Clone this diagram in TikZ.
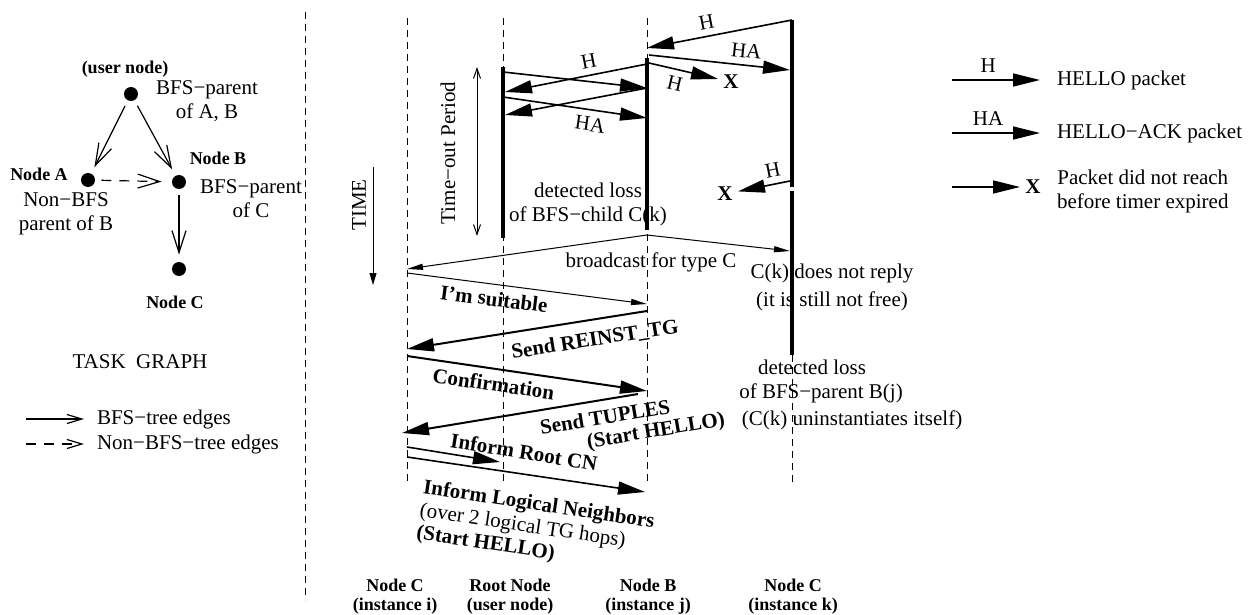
\documentclass[tikz,border=0pt]{standalone}
\usepackage{fontspec}
\setmainfont{Liberation Serif}
\usetikzlibrary{arrows.meta}

\tikzset{
    ponto/.style={circle, fill, inner sep=0pt, minimum size=7pt},
    aresta/.style={line width=0.6pt, -{Straight Barb[length=11pt,width=7pt]}, shorten <=3pt, shorten >=3.5pt},
    legaresta/.style={line width=0.6pt, -{Straight Barb[length=7.5pt,width=4.5pt]}},
    vida/.style={line width=0.5pt, dash pattern=on 3.5pt off 2.5pt},
    ativo/.style={line width=1.7pt},
    msg/.style={line width=0.8pt, -{Triangle[length=13.5pt,width=6.5pt]}},
    fino/.style={line width=0.5pt, -{Triangle[length=8pt,width=3pt]}},
    negrito/.style={font=\fontsize{10.5}{11.5}\selectfont\bfseries},
    titulo/.style={font=\fontsize{9}{9.5}\selectfont\bfseries, align=center},
    xis/.style={font=\fontsize{10.5}{11.5}\selectfont\bfseries, inner sep=2.5pt}
}

\begin{document}
\begin{tikzpicture}[x=0.5pt, y=-0.5pt, font=\fontsize{10.5}{12}\selectfont]
    \useasboundingbox (0,0) rectangle (1252,615);

    % Grafo de tarefas
    \node[ponto] (raiz) at (131,94) {};
    \node[ponto] (na) at (88,180) {};
    \node[ponto] (nb) at (179,182) {};
    \node[ponto] (nc) at (179,269) {};
    \draw[aresta] (raiz) -- (na);
    \draw[aresta] (raiz) -- (nb);
    \draw[aresta] (nb) -- (nc);
    \draw[aresta, dash pattern=on 5pt off 4pt, shorten >=5pt] (na) -- (nb);

    \node[titulo] (tusr) at (125,69) {(user node)};
    \node[titulo] (ta) at (39,174) {Node A};
    \node[titulo] (tb) at (218,158) {Node B};
    \node[titulo] (tc) at (175,302) {Node C};
    \node[align=center] (pab) at (207,101) {BFS−parent\\of A, B};
    \node[align=center] (pnb) at (66,214) {Non−BFS\\parent of B};
    \node[align=center] (pc) at (251,199) {BFS−parent\\of C};
    \node (tg) at (140,362) {TASK\ \ GRAPH};

    % Legenda do grafo
    \coordinate (le1) at (26,419);  \coordinate (le2) at (84,419);
    \coordinate (le3) at (26,444);  \coordinate (le4) at (84,444);
    \draw[legaresta] (le1) -- (le2);
    \draw[legaresta, dash pattern=on 5pt off 4pt] (le3) -- (le4);
    \node[anchor=west] (tle1) at (90,419) {BFS−tree edges};
    \node[anchor=west] (tle2) at (90,444) {Non−BFS−tree edges};

    % Separador
    \coordinate (sep1) at (305,12);
    \coordinate (sep2) at (305,600);
    \draw[vida] (sep1) -- (sep2);

    % Linhas de vida
    \foreach \n/\x in {ci/407, r/503, j/647} {
        \coordinate (\n-t) at (\x,18);
        \coordinate (\n-b) at (\x,482);
        \draw[vida] (\n-t) -- (\n-b);
    }
    \coordinate (r-a1) at (503,67);   \coordinate (r-a2) at (503,238);
    \coordinate (j-a1) at (647,58);   \coordinate (j-a2) at (647,230);
    \coordinate (k-a1) at (792,20);   \coordinate (k-a2) at (792,187);
    \coordinate (k-a3) at (792,191);  \coordinate (k-a4) at (792,355);
    \coordinate (k-b) at (792,482);
    \draw[ativo] (r-a1) -- (r-a2);
    \draw[ativo] (j-a1) -- (j-a2);
    \draw[ativo] (k-a1) -- (k-a2);
    \draw[ativo] (k-a3) -- (k-a4);
    \draw[vida] (k-a4) -- (k-b);

    % Tempo e timeout
    \coordinate (tm1) at (373,167);  \coordinate (tm2) at (373,285);
    \draw[line width=0.5pt, -{Triangle[length=6pt,width=3.5pt]}] (tm1) -- (tm2);
    \node[rotate=90] (ttime) at (359,205) {TIME};
    \coordinate (to1) at (477,67);  \coordinate (to2) at (477,236);
    \draw[line width=0.5pt, {Straight Barb[length=5pt,width=3.5pt]}-{Straight Barb[length=5pt,width=3.5pt]}] (to1) -- (to2);
    \node[rotate=90] (tout) at (448,153) {Time−out Period};

    % HELLO entre B(j) e C(k)
    \coordinate (k1) at (792,20);   \coordinate (j1) at (647,48);
    \coordinate (j2) at (649,55);   \coordinate (k2) at (790,70);
    \coordinate (j3) at (649,63);
    \node[xis] (xa) at (731,82) {X};
    \draw[msg] (k1) -- node[sloped, above, pos=.57] (lh1) {H} (j1);
    \draw[msg] (j2) -- node[sloped, above, pos=.68] (lh2) {HA} (k2);
    \draw[msg] (j3) -- node[sloped, below, pos=.42] (lh3) {H} (xa);

    % HELLO entre raiz e B(j)
    \coordinate (r1) at (503,72);   \coordinate (j4) at (647,88);
    \coordinate (j5) at (647,64);   \coordinate (r2) at (505,92);
    \coordinate (r3) at (505,115);
    \coordinate (r4) at (503,97);   \coordinate (j6) at (647,118);
    \draw[msg] (r1) -- (j4);
    \draw[msg] (j5) -- node[sloped, above, pos=.39] (lh4) {H} (r2);
    \draw[msg] (j4) -- (r3);
    \draw[msg] (r4) -- node[sloped, below, pos=.62] (lh5) {HA} (j6);

    % HELLO perdido de C(k)
    \coordinate (k3) at (790,181);
    \node[xis] (xb) at (725,194) {X};
    \draw[msg] (k3) -- node[sloped, above, pos=.28] (lh6) {H} (xb);

    \node[align=center] (perda1) at (588,204) {detected loss\\of BFS−child C(k)};

    % Broadcast
    \coordinate (j7) at (647,235);  \coordinate (ci1) at (407,269);
    \coordinate (k4) at (790,251);
    \draw[fino] (j7) -- (ci1);
    \draw[fino] (j7) -- (k4);
    \node (tbc) at (651,262) {broadcast for type C};
    \node[align=center] (tnr) at (832,287) {C(k) does not reply\\[2pt](it is still not free)};

    % Reinstanciacao
    \coordinate (ci2) at (407,273);  \coordinate (j8) at (647,304);
    \draw[fino] (ci2) -- node[sloped, below, pos=.37, negrito] (tsu) {I'm suitable} (j8);
    \coordinate (j9) at (647,311);   \coordinate (ci3) at (407,349);
    \draw[msg, line width=1pt] (j9) -- node[sloped, below=2pt, pos=.23, negrito] (tre) {Send REINST\_TG} (ci3);
    \coordinate (ci4) at (407,356);  \coordinate (j10) at (647,391);
    \draw[msg, line width=1pt] (ci4) -- node[sloped, below, pos=.37, negrito] (tcf) {Confirmation} (j10);
    \coordinate (j11) at (638,394);  \coordinate (ci5) at (402,433);
    \draw[msg, line width=1pt] (j11) -- (ci5);
    \node[negrito, rotate=9.4] (ttup1) at (605,417) {Send TUPLES};
    \node[negrito, rotate=9.4] (ttup2) at (656,432) {(Start HELLO)};

    \coordinate (ci6) at (407,447);  \coordinate (r5) at (500,462);
    \draw[msg] (ci6) -- (r5);
    \node[negrito, rotate=-9] (troot) at (524,452) {Inform Root CN};
    \coordinate (ci7) at (407,457);  \coordinate (j12) at (645,492);
    \draw[msg] (ci7) -- (j12);
    \node[rotate=-8.5, anchor=west, align=left, font=\fontsize{10.5}{11.5}\selectfont] (tlog) at (413,510)
        {\textbf{Inform Logical Neighbors}\\(over 2 logical TG hops)\\\textbf{(Start HELLO)}};

    % Perda do pai em C(k)
    \node (tpa) at (812,367) {detected loss};
    \node (tpb) at (821,393) {of BFS−parent B(j)};
    \node (tpc) at (852,420) {(C(k) uninstantiates itself)};

    % Nomes das linhas de vida
    \node[titulo] (lci) at (395,597) {Node C\\(instance i)};
    \node[titulo] (lr) at (510,597) {Root Node\\(user node)};
    \node[titulo] (lj) at (648,597) {Node B\\(instance j)};
    \node[titulo] (lk) at (793,597) {Node C\\(instance k)};

    % Legenda das mensagens
    \coordinate (lm1) at (952,80);   \coordinate (lm2) at (1040,80);
    \coordinate (lm3) at (952,133);  \coordinate (lm4) at (1040,133);
    \coordinate (lm5) at (952,187);
    \node[xis] (xc) at (1033,187) {X};
    \draw[msg] (lm1) -- node[above, pos=.41] (tlh) {H} (lm2);
    \draw[msg] (lm3) -- node[above, pos=.41] (tlha) {HA} (lm4);
    \draw[msg] (lm5) -- (xc);
    \node[anchor=west] (th) at (1050,80) {HELLO packet};
    \node[anchor=west] (tha) at (1050,133) {HELLO−ACK packet};
    \node[anchor=west, align=center] (tx) at (1050,191) {Packet did not reach\\before timer expired};
\end{tikzpicture}
\end{document}
